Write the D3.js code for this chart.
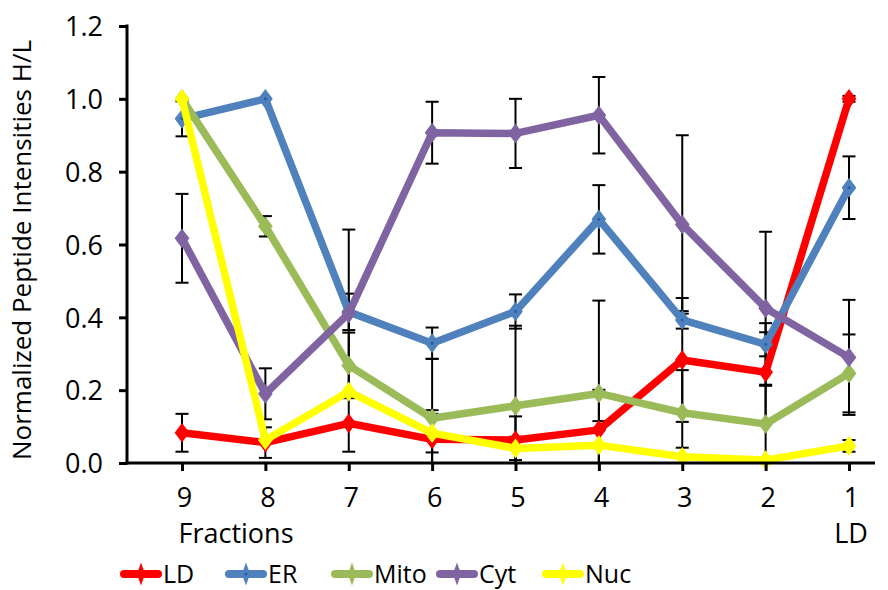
<!DOCTYPE html>
<html>
<head>
<meta charset="utf-8">
<script src="https://cdn.jsdelivr.net/npm/d3@7"></script>
<style>
  html, body { margin: 0; padding: 0; background: #fff; }
  svg { display: block; }
  text { font-family: "Open Sans", "Noto Sans", sans-serif; fill: #000; }
</style>
</head>
<body>
<svg id="chart" width="888" height="590"></svg>
<script>
// ---- Data ----
const categories = ["9", "8", "7", "6", "5", "4", "3", "2", "1"];
const yTicks = [0, 0.2, 0.4, 0.6, 0.8, 1.0, 1.2];
const seriesNames = ["LD", "ER", "Mito", "Cyt", "Nuc"];
const seriesColors = ["#FF0000", "#4F81BD", "#9BBB59", "#8064A2", "#FFFF00"];

const LD      = [0.083, 0.056, 0.109, 0.065, 0.063, 0.091, 0.283, 0.249, 1.000];
const LD_err  = [0.052, 0.042, 0.078, 0.080, 0.065, 0.110, 0.170, 0.135, 0.008];
const ER      = [0.945, 1.000, 0.415, 0.329, 0.416, 0.669, 0.393, 0.326, 0.756];
const ER_err  = [0.048, 0.000, 0.050, 0.043, 0.047, 0.094, 0.024, 0.033, 0.086];
const Mito    = [1.000, 0.650, 0.268, 0.123, 0.157, 0.191, 0.138, 0.107, 0.246];
const Mito_err= [0.000, 0.028, 0.090, 0.163, 0.220, 0.255, 0.117, 0.105, 0.107];
const Cyt     = [0.617, 0.190, 0.411, 0.907, 0.905, 0.955, 0.655, 0.425, 0.290];
const Cyt_err = [0.122, 0.070, 0.230, 0.085, 0.095, 0.105, 0.245, 0.210, 0.158];
const Nuc     = [1.000, 0.063, 0.196, 0.082, 0.040, 0.049, 0.017, 0.008, 0.047];
const Nuc_err = [0.000, 0.000, 0.000, 0.053, 0.032, 0.066, 0.025, 0.000, 0.016];

const seriesValues = [LD, ER, Mito, Cyt, Nuc];
const seriesErrors = [LD_err, ER_err, Mito_err, Cyt_err, Nuc_err];

// ---- Layout ----
const svg = d3.select("#chart");
const plotLeft = 127, plotRight = 875, plotTop = 26, plotBottom = 463;

const x = d3.scalePoint().domain(categories).range([182, 849]).padding(0);
const y = d3.scaleLinear().domain([0, 1.2]).range([plotBottom, plotTop]);

const series = seriesNames.map((name, i) => ({
  name, color: seriesColors[i],
  points: categories.map((c, j) => ({ c, v: seriesValues[i][j], e: seriesErrors[i][j] }))
}));

// ---- Error bars (beneath lines) ----
const eb = svg.append("g").attr("class", "errorbars");
const capW = 6.5;
series.forEach(s => {
  s.points.forEach(p => {
    if (p.e <= 0) return;
    const hi = Math.min(p.v + p.e, 1.2), lo = Math.max(p.v - p.e, 0);
    const cx = x(p.c);
    eb.append("line").attr("x1", cx).attr("x2", cx)
      .attr("y1", y(hi)).attr("y2", y(lo))
      .attr("stroke", "#000").attr("stroke-width", 2);
    if (p.v + p.e <= 1.2)
      eb.append("line").attr("x1", cx - capW).attr("x2", cx + capW)
        .attr("y1", y(p.v + p.e)).attr("y2", y(p.v + p.e))
        .attr("stroke", "#000").attr("stroke-width", 2);
    if (p.v - p.e >= 0)
      eb.append("line").attr("x1", cx - capW).attr("x2", cx + capW)
        .attr("y1", y(p.v - p.e)).attr("y2", y(p.v - p.e))
        .attr("stroke", "#000").attr("stroke-width", 2);
  });
});

// ---- Lines & markers ----
const line = d3.line().x(d => x(d.c)).y(d => y(d.v));
const diamond = d3.symbol().type(d3.symbolDiamond).size(90);
series.forEach(s => {
  const g = svg.append("g");
  g.append("path").datum(s.points).attr("d", line)
    .attr("fill", "none").attr("stroke", s.color)
    .attr("stroke-width", 7.5).attr("stroke-linejoin", "round").attr("stroke-linecap", "round");
  g.selectAll("path.m").data(s.points).enter().append("path").attr("class", "m")
    .attr("transform", d => `translate(${x(d.c)},${y(d.v)}) scale(1.3,1)`)
    .attr("d", diamond).attr("fill", s.color).attr("stroke", s.color).attr("stroke-width", 1);
  if (s.name === "ER") {
    g.selectAll("circle").data(s.points).enter().append("circle")
      .attr("cx", d => x(d.c)).attr("cy", d => y(d.v)).attr("r", 1.5).attr("fill", "#1F5FAF");
  }
});

// ---- Axes ----
const yAxis = d3.axisLeft(y).tickValues(yTicks).tickFormat(d3.format(".1f"))
  .tickSize(8).tickSizeOuter(0).tickPadding(16);
const gy = svg.append("g").attr("transform", `translate(${plotLeft},0)`).call(yAxis);
gy.select(".domain").remove();
gy.selectAll(".tick line").attr("stroke", "#000").attr("stroke-width", 3);
gy.selectAll(".tick text").attr("font-size", 27).attr("font-family", "Open Sans").attr("dy", "0.36em");
svg.append("line").attr("x1", plotLeft).attr("x2", plotLeft)
  .attr("y1", plotTop - 1.5).attr("y2", plotBottom + 1.5)
  .attr("stroke", "#000").attr("stroke-width", 3);

const xAxis = d3.axisBottom(x).tickSize(8).tickSizeOuter(0).tickPadding(17);
const gx = svg.append("g").attr("transform", `translate(0,${plotBottom})`).call(xAxis);
gx.select(".domain").remove();
gx.selectAll(".tick line").attr("stroke", "#000").attr("stroke-width", 3);
gx.selectAll(".tick text").attr("font-size", 27).attr("font-family", "Open Sans").attr("dx", 2);
svg.append("line").attr("x1", plotLeft - 1.5).attr("x2", plotRight)
  .attr("y1", plotBottom).attr("y2", plotBottom)
  .attr("stroke", "#000").attr("stroke-width", 3);

// ---- Titles ----
svg.append("text").attr("transform", `translate(31,250) rotate(-90)`)
  .attr("text-anchor", "middle").attr("font-size", 26).text("Normalized Peptide Intensities H/L");
svg.append("text").attr("x", 236).attr("y", 543).attr("text-anchor", "middle")
  .attr("font-size", 27).text("Fractions");
svg.append("text").attr("x", x("1") + 2).attr("y", 543).attr("text-anchor", "middle")
  .attr("font-size", 27).text("LD");

// ---- Legend ----
const legendX = [120, 225, 331, 436, 542];
const legend = svg.append("g");
series.forEach((s, i) => {
  const lx = legendX[i], ly = 574;
  legend.append("line").attr("x1", lx + 4).attr("x2", lx + 38).attr("y1", ly).attr("y2", ly)
    .attr("stroke", s.color).attr("stroke-width", 8).attr("stroke-linecap", "round");
  legend.append("path").attr("transform", `translate(${lx + 21},${ly}) scale(0.8,1.3)`)
    .attr("d", diamond).attr("fill", s.color);
  if (s.name === "ER")
    legend.append("circle").attr("cx", lx + 21).attr("cy", ly).attr("r", 1.5).attr("fill", "#1F5FAF");
  legend.append("text").attr("x", lx + 43).attr("y", 583).attr("font-size", 25).text(s.name);
});
</script>
</body>
</html>
